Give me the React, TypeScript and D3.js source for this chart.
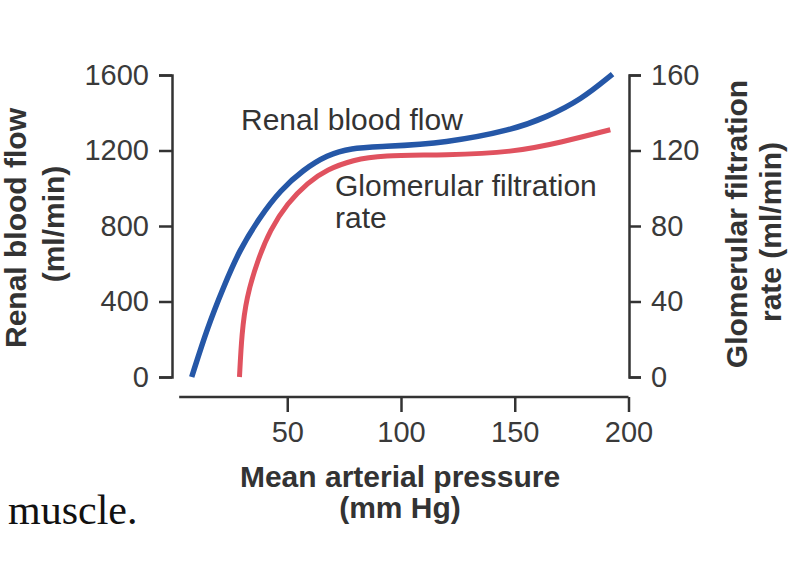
import React, { useEffect, useRef } from "react";
import * as d3 from "d3";

// readings
const rbfPressure = [8, 15, 22, 29, 38, 47, 57, 67.5, 78, 91, 120, 149, 164, 179, 193];
const rbfValues = [0, 265, 477, 673, 848, 990, 1097, 1176, 1213, 1220, 1240, 1309, 1377, 1468, 1605];

const gfrPressure = [29, 30, 32, 37, 42.5, 50, 59, 67.5, 79, 91, 120, 149, 171, 192];
const gfrValues = [0, 23, 42, 62, 78, 92, 103, 110, 115, 117.5, 117.5, 119, 124.5, 131];

const xTicks = [50, 100, 150, 200];
const leftTicks = [0, 400, 800, 1200, 1600];
const rightTicks = [0, 40, 80, 120, 160];

const TEXT = "#333";
const SANS = "'Liberation Sans', Arial, sans-serif";

const App = () => {
  const ref = useRef<SVGSVGElement>(null);

  useEffect(() => {
    draw();
  });

  const draw = () => {
    const svg = d3.select(ref.current);
    svg.selectAll("*").remove();

    const x = d3.scaleLinear().domain([0, 200]).range([173.5, 628.5]);
    const yL = d3.scaleLinear().domain([0, 1600]).range([377, 75]);
    const yR = d3.scaleLinear().domain([0, 160]).range([377, 75]);
    const leftX = 172;
    const rightX = 629;
    const baseY = 397;

    const styleAxis = (g: d3.Selection<SVGGElement, unknown, null, undefined>) => {
      g.selectAll("path, line").attr("stroke", TEXT).attr("stroke-width", 2.5);
      g.selectAll("text")
        .attr("fill", "#3a3a3a")
        .style("font-family", SANS)
        .style("font-size", "29px");
    };

    // left axis
    svg
      .append("g")
      .attr("transform", `translate(${leftX},0)`)
      .call(d3.axisLeft(yL).tickValues(leftTicks).tickFormat(d3.format("d")).tickSize(13).tickPadding(10))
      .call(styleAxis);

    // right axis
    svg
      .append("g")
      .attr("transform", `translate(${rightX},0)`)
      .call(d3.axisRight(yR).tickValues(rightTicks).tickFormat(d3.format("d")).tickSize(12).tickPadding(10))
      .call(styleAxis);

    // bottom axis, offset below the plot
    const gx = svg
      .append("g")
      .attr("transform", `translate(0,${baseY})`)
      .call(d3.axisBottom(x).tickValues(xTicks).tickSize(15).tickPadding(9).tickSizeOuter(0))
      .call(styleAxis);
    gx.select(".domain").remove();
    gx.append("line")
      .attr("x1", x(2.5))
      .attr("x2", x(200))
      .attr("stroke", TEXT)
      .attr("stroke-width", 2.5);

    // curves
    const rbf = rbfPressure.map((p, i) => [x(p), yL(rbfValues[i])] as [number, number]);
    const gfr = gfrPressure.map((p, i) => [x(p), yR(gfrValues[i])] as [number, number]);
    const line = d3.line().curve(d3.curveBasis);

    svg
      .append("path")
      .attr("d", line(gfr))
      .attr("fill", "none")
      .attr("stroke", "#e0525f")
      .attr("stroke-width", 5);

    svg
      .append("path")
      .attr("d", line(rbf))
      .attr("fill", "none")
      .attr("stroke", "#2557a7")
      .attr("stroke-width", 5.5);

    const label = (tx: number, ty: number, s: string, opts: { bold?: boolean; anchor?: string; rotate?: boolean } = {}) => {
      svg
        .append("text")
        .attr("transform", `translate(${tx},${ty})${opts.rotate ? " rotate(-90)" : ""}`)
        .attr("text-anchor", opts.anchor || "start")
        .attr("fill", TEXT)
        .style("font-family", SANS)
        .style("font-size", "30px")
        .style("font-weight", opts.bold ? "bold" : "normal")
        .text(s);
    };

    // annotations
    label(241, 130, "Renal blood flow");
    label(335, 196, "Glomerular filtration");
    label(335, 228, "rate");

    // axis titles
    label(400, 487, "Mean arterial pressure", { bold: true, anchor: "middle" });
    label(400, 518, "(mm Hg)", { bold: true, anchor: "middle" });
    label(26, 228, "Renal blood flow", { bold: true, anchor: "middle", rotate: true });
    label(64, 224, "(ml/min)", { bold: true, anchor: "middle", rotate: true });
    label(747, 224, "Glomerular filtration", { bold: true, anchor: "middle", rotate: true });
    label(781, 232, "rate (ml/min)", { bold: true, anchor: "middle", rotate: true });

    // stray body text from the source page
    svg
      .append("text")
      .attr("x", 8)
      .attr("y", 524)
      .attr("fill", "#111")
      .style("font-family", "'Liberation Serif', 'DejaVu Serif', serif")
      .style("font-size", "42px")
      .text("muscle.");
  };

  return (
    <svg
      ref={ref}
      width={794}
      height={570}
      style={{ position: "absolute", left: 0, top: 0, background: "#fff" }}
    />
  );
};

export default App;
